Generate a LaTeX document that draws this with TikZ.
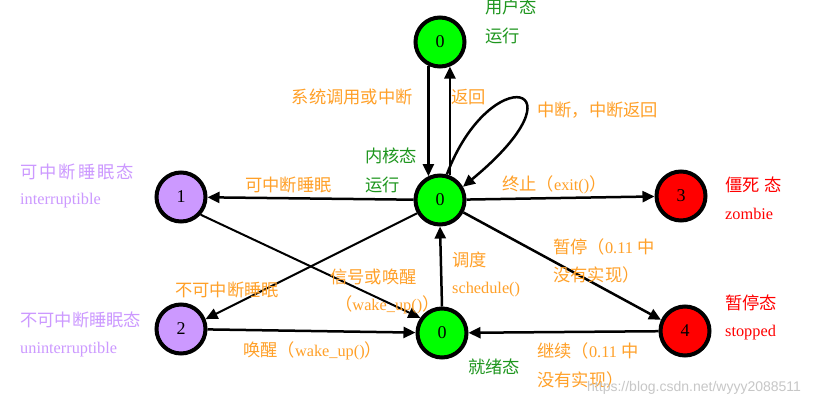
\documentclass[tikz,border=0pt]{standalone}
\usepackage{fontspec}
\setmainfont{Liberation Serif}
\newfontfamily\cjk[Scale=1.06]{Noto Sans CJK SC}
\newfontfamily\wmfont{Liberation Sans}
\usetikzlibrary{arrows.meta}
\definecolor{stgreen}{RGB}{0,255,0}
\definecolor{stpurple}{RGB}{204,153,255}
\definecolor{stred}{RGB}{255,0,0}
\definecolor{lorange}{RGB}{255,160,40}
\definecolor{lgreen}{RGB}{30,150,30}
\definecolor{lpurple}{RGB}{204,153,255}
\definecolor{lred}{RGB}{255,0,0}
\begin{document}
\begin{tikzpicture}[x=1pt,y=-1pt,
  st/.style={circle,draw=black,line width=4pt,minimum size=49pt,inner sep=0pt,font=\fontsize{18}{18}\selectfont},
  lbl/.style={anchor=west,inner sep=0pt,font=\fontsize{16.3}{16}\selectfont},
  ol/.style={lbl,text=lorange},
  gl/.style={lbl,text=lgreen},
  pl/.style={lbl,text=lpurple},
  rl/.style={lbl,text=lred},
  conn/.style={draw=black,line width=2.5pt,-{Triangle[length=12pt,width=11pt]}},
  thinconn/.style={draw=black,line width=2pt,-{Triangle[length=12pt,width=11pt]}}
]
\useasboundingbox (0,0) rectangle (837,407);
\fill[white] (0,0) rectangle (837,407);

% states
\node[st,fill=stgreen] (user) at (440,42) {0};
\node[st,fill=stgreen] (kernel) at (440,200) {0};
\node[st,fill=stpurple] (n1) at (181,197) {1};
\node[st,fill=stred] (n3) at (681,196) {3};
\node[st,fill=stpurple] (n2) at (181,329) {2};
\node[st,fill=stgreen] (ready) at (442,333) {0};
\node[st,fill=stred] (n4) at (685,331) {4};

% connectors
\draw[conn] (user.244) -- (kernel.116);
\draw[conn] (kernel.68) -- (user.292);
\draw[conn] (kernel.75) .. controls (490,60) and (590,82) .. (kernel.30);
\draw[conn] (kernel) -- (n1);
\draw[conn] (kernel) -- (n3);
\draw[thinconn] (n1.-42) -- (ready.145);
\draw[thinconn] (kernel.210) -- (n2.22);
\draw[conn] (ready.north) -- (kernel.south);
\draw[conn] (kernel.-28) -- (n4.155);
\draw[conn] (n2) -- (ready);
\draw[conn] (n4) -- (ready);

% labels
\node[gl] (tuser1) at (485,7) {\cjk 用户态};
\node[gl] (tuser2) at (485,36) {\cjk 运行};
\node[ol,anchor=east] (tsys) at (413,97) {\cjk 系统调用或中断};
\node[ol] (tret) at (451,97) {\cjk 返回};
\node[ol] (tint) at (537,110) {\cjk 中断，中断返回};
\node[gl] (tk1) at (365,156) {\cjk 内核态};
\node[gl] (tk2) at (365,185) {\cjk 运行};
\node[ol] (tisl) at (245,185) {\cjk 可中断睡眠};
\node[ol] (texit) at (502,185) {{\cjk 终止（}exit(){\cjk ）}};
\node[pl] (tn1a) at (20,172) {\cjk 可\hspace{2pt}中\hspace{2pt}断\hspace{2pt}睡\hspace{2pt}眠\hspace{2pt}态};
\node[pl] (tn1b) at (20,201) {interruptible};
\node[rl] (tn3a) at (725,185) {\cjk 僵死\hspace{5pt}态};
\node[rl] (tn3b) at (725,214) {zombie};
\node[ol] (tsusp1) at (553,247) {{\cjk 暂停（}0.11 {\cjk 中}};
\node[ol] (tsusp2) at (553,275) {\cjk 没有实现）};
\node[ol] (tsch1) at (452,260) {\cjk 调度};
\node[ol] (tsch2) at (452,290) {schedule()};
\node[ol] (tsig1) at (330,277) {\cjk 信号或唤醒};
\node[ol] (tsig2) at (335,305) {{\cjk （}wake\_up(){\cjk ）}};
\node[ol] (tusl) at (175,290) {\cjk 不可中断睡眠};
\node[pl] (tn2a) at (20,320) {\cjk 不可中断睡眠态};
\node[pl] (tn2b) at (20,350) {uninterruptible};
\node[ol] (twake) at (243,351) {{\cjk 唤醒（}wake\_up(){\cjk ）}};
\node[gl] (tready) at (468,367) {\cjk 就绪态};
\node[rl] (tn4a) at (725,303) {\cjk 暂停态};
\node[rl] (tn4b) at (725,333) {stopped};
\node[ol] (tcont1) at (537,351) {{\cjk 继续（}0.11 {\cjk 中}};
\node[ol] (tcont2) at (537,380) {\cjk 没有实现）};
\node[lbl,text=black!22,font=\wmfont\fontsize{14}{14}\selectfont] (wm) at (587,388) {https://blog.csdn.net/wyyy2088511};
\end{tikzpicture}
\end{document}
